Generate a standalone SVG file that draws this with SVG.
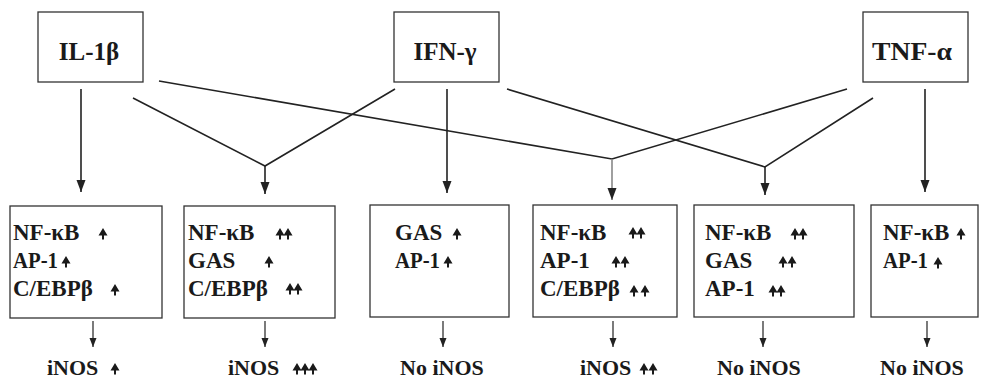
<svg xmlns="http://www.w3.org/2000/svg" width="981" height="379" viewBox="0 0 981 379">
<style>
.box{fill:#fff;stroke:#333;stroke-width:1.3}
.t{font-family:'Liberation Serif','Times New Roman',serif;font-weight:700;fill:#1a1a1a}
.top{font-size:25px}
.lbl{font-size:23px}
.out{font-size:22px}
.c{fill:none;stroke:#222;stroke-width:1.6}
.cg{fill:none;stroke:#888;stroke-width:1.6}
.s{fill:none;stroke:#222;stroke-width:1.2}
.ar{fill:#1a1a1a}
</style>
<defs>
<marker id="ah" markerUnits="userSpaceOnUse" markerWidth="12" markerHeight="10" refX="12" refY="4.5" orient="auto"><path d="M0,0 L12,4.5 L0,9 z" fill="#222"/></marker>
<marker id="as" markerUnits="userSpaceOnUse" markerWidth="9" markerHeight="8" refX="9" refY="3.5" orient="auto"><path d="M0,0 L9,3.5 L0,7 z" fill="#222"/></marker>
<path id="ua" d="M0,0 L4.5,7.5 L1,7.5 L1,11.5 L-1,11.5 L-1,7.5 L-4.5,7.5 z"/>
</defs>

<g id="connectors">
<line class="c" x1="81" y1="89" x2="81" y2="192" marker-end="url(#ah)"/>
<polyline class="c" points="133,98 265,166 395,89"/>
<line class="c" x1="265" y1="166" x2="265" y2="194" marker-end="url(#ah)"/>
<line class="c" x1="447" y1="89" x2="447" y2="193" marker-end="url(#ah)"/>
<polyline class="c" points="159,81 612,159 847,89"/>
<line class="cg" x1="612" y1="159" x2="612" y2="200" marker-end="url(#ah)"/>
<polyline class="c" points="507,89 765,167 873,98"/>
<line class="c" x1="765" y1="167" x2="765" y2="195" marker-end="url(#ah)"/>
<line class="c" x1="925" y1="89" x2="925" y2="192" marker-end="url(#ah)"/>
<line class="s" x1="93" y1="321" x2="93" y2="347" marker-end="url(#as)"/>
<line class="s" x1="265" y1="321" x2="265" y2="347" marker-end="url(#as)"/>
<line class="s" x1="443" y1="321" x2="443" y2="347" marker-end="url(#as)" stroke="#777"/>
<line class="s" x1="613" y1="321" x2="613" y2="347" marker-end="url(#as)"/>
<line class="s" x1="763" y1="321" x2="763" y2="347" marker-end="url(#as)"/>
<line class="s" x1="927" y1="321" x2="927" y2="347" marker-end="url(#as)"/>
</g>

<g id="il1b">
<rect class="box" x="38" y="12" width="105" height="70"/>
<text class="t top" x="89" y="60" text-anchor="middle">IL-1β</text>
</g>
<g id="ifng">
<rect class="box" x="394" y="12" width="105" height="70"/>
<text class="t top" x="445" y="60" text-anchor="middle">IFN-γ</text>
</g>
<g id="tnfa">
<rect class="box" x="863" y="12" width="105" height="70"/>
<text class="t top" x="872" y="60" textLength="80" lengthAdjust="spacingAndGlyphs">TNF-α</text>
</g>

<g id="box1">
<rect class="box" x="10" y="206" width="152" height="112"/>
<text class="t lbl" x="13" y="240">NF-κB</text>
<text class="t lbl" x="13" y="268" textLength="45" lengthAdjust="spacingAndGlyphs">AP-1</text>
<text class="t lbl" x="13" y="296">C/EBPβ</text>
<g class="ar">
<use href="#ua" x="103" y="228"/>
<use href="#ua" x="66" y="256"/>
<use href="#ua" x="115" y="284"/>
</g>
</g>

<g id="box2">
<rect class="box" x="184" y="206" width="151" height="112"/>
<text class="t lbl" x="188" y="240">NF-κB</text>
<text class="t lbl" x="188" y="268">GAS</text>
<text class="t lbl" x="188" y="296">C/EBPβ</text>
<g class="ar">
<use href="#ua" x="280" y="228"/>
<use href="#ua" x="288" y="228"/>
<use href="#ua" x="269" y="256"/>
<use href="#ua" x="290" y="283"/>
<use href="#ua" x="298" y="283"/>
</g>
</g>

<g id="box3">
<rect class="box" x="370" y="205" width="139" height="112"/>
<text class="t lbl" x="395" y="240">GAS</text>
<text class="t lbl" x="395" y="268" textLength="45" lengthAdjust="spacingAndGlyphs">AP-1</text>
<g class="ar">
<use href="#ua" x="457" y="228"/>
<use href="#ua" x="448" y="256"/>
</g>
</g>

<g id="box4">
<rect class="box" x="533" y="205" width="144" height="112"/>
<text class="t lbl" x="540" y="240">NF-κB</text>
<text class="t lbl" x="540" y="268">AP-1</text>
<text class="t lbl" x="540" y="296">C/EBPβ</text>
<g class="ar">
<use href="#ua" x="633" y="227"/>
<use href="#ua" x="641" y="227"/>
<use href="#ua" x="616" y="256"/>
<use href="#ua" x="625" y="256"/>
<use href="#ua" x="634" y="285"/>
<use href="#ua" x="645" y="285"/>
</g>
</g>

<g id="box5">
<rect class="box" x="694" y="205" width="160" height="112"/>
<text class="t lbl" x="705" y="240">NF-κB</text>
<text class="t lbl" x="705" y="268">GAS</text>
<text class="t lbl" x="705" y="296">AP-1</text>
<g class="ar">
<use href="#ua" x="795" y="228"/>
<use href="#ua" x="803" y="228"/>
<use href="#ua" x="783" y="256"/>
<use href="#ua" x="792" y="256"/>
<use href="#ua" x="773" y="285"/>
<use href="#ua" x="781" y="285"/>
</g>
</g>

<g id="box6">
<rect class="box" x="871" y="205" width="107" height="112"/>
<text class="t lbl" x="883" y="240">NF-κB</text>
<text class="t lbl" x="883" y="268" textLength="45" lengthAdjust="spacingAndGlyphs">AP-1</text>
<g class="ar">
<use href="#ua" x="961" y="228"/>
<use href="#ua" x="938" y="257"/>
</g>
</g>

<g id="out1">
<text class="t out" x="47" y="375">iNOS</text>
<use class="ar" href="#ua" x="115" y="363"/>
</g>
<g id="out2">
<text class="t out" x="228" y="375">iNOS</text>
<g class="ar">
<use href="#ua" x="297" y="363"/>
<use href="#ua" x="305" y="363"/>
<use href="#ua" x="313" y="363"/>
</g>
</g>
<g id="out3">
<text class="t out" x="400" y="375">No iNOS</text>
</g>
<g id="out4">
<text class="t out" x="580" y="375">iNOS</text>
<g class="ar">
<use href="#ua" x="644" y="363"/>
<use href="#ua" x="653" y="363"/>
</g>
</g>
<g id="out5">
<text class="t out" x="717" y="375">No iNOS</text>
</g>
<g id="out6">
<text class="t out" x="880" y="375">No iNOS</text>
</g>
</svg>
